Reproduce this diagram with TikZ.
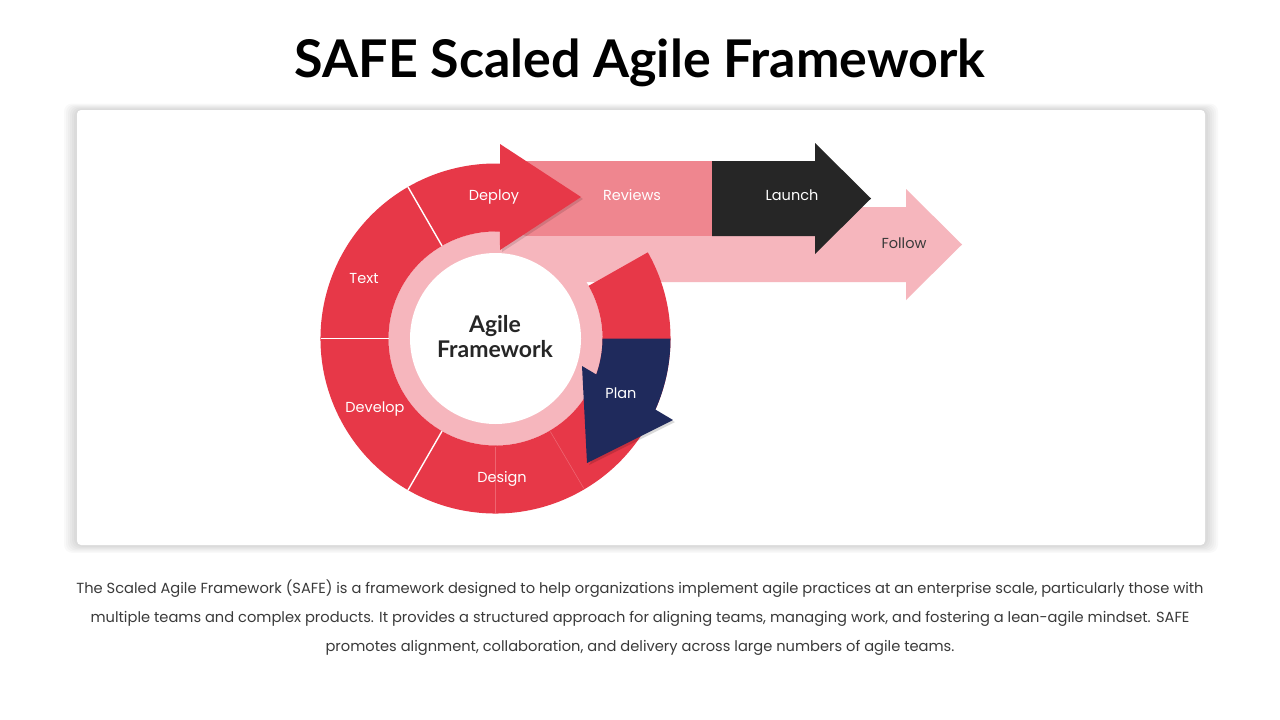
\documentclass[tikz,border=0pt]{standalone}
\usepackage{fontspec}
\setmainfont{Poppins}
\newfontfamily\titlefont{Lato}
\definecolor{redc}{HTML}{E73848}
\definecolor{faintc}{HTML}{EE6470}
\definecolor{reviewc}{HTML}{EF868F}
\definecolor{pinkc}{HTML}{F6B6BD}
\definecolor{launchc}{HTML}{262626}
\definecolor{navyc}{HTML}{1F2A5C}
\definecolor{textc}{HTML}{3A3A3A}
\tikzset{
  seglabel/.style={text=white, font=\fontsize{14.5}{16}\selectfont, inner sep=0pt, text height=10.5pt, text depth=3.5pt},
  darklabel/.style={text=textc, font=\fontsize{14.5}{16}\selectfont, inner sep=0pt, text height=10.5pt, text depth=3.5pt},
  divider/.style={white, line width=1.4pt},
  faint/.style={faintc, line width=0.6pt},
}
\begin{document}
\begin{tikzpicture}[x=1pt,y=-1pt]
\useasboundingbox (0,0) rectangle (1280,720);
\fill[white] (0,0) rectangle (1280,720);
% card shadow
\foreach \d in {13,11,9,7,5,3}{
  \fill[black,opacity=0.022,rounded corners=8pt] (77-\d,110-\d*0.5) rectangle (1205+\d,545+\d*0.6);
}
\fill[white,rounded corners=4pt] (77,110) rectangle (1205,545);
% title
\node (title) at (640,63) {\titlefont\bfseries\fontsize{52}{55}\selectfont SAFE Scaled Agile Framework};
% follow arrow (pink band)
\fill[pinkc] (495,207) -- (906,207) -- (906,189) -- (962,244.5) -- (906,300) -- (906,282) -- (495,282) -- cycle;
% reviews
\fill[reviewc] (512,161) rectangle (712,236);
% launch
\fill[launchc] (712,161) -- (815,161) -- (815,143) -- (871,198.5) -- (815,254) -- (815,236) -- (712,236) -- cycle;
\begin{scope}[shift={(495.5,338.5)}, y=1pt]
  \fill[pinkc] (0,0) circle[radius=107];
  % red ring
  \fill[redc] (120:107) -- (120:175) arc[start angle=120,end angle=389.5,radius=175] -- (389.5:107) arc[start angle=389.5,end angle=120,radius=107] -- cycle;
  % deploy shadow + arrow
  \fill[black,opacity=0.12] ([shift={(2,-2)}]4.5,194.5) -- ([shift={(2,-2)}]85.5,141.5) -- ([shift={(2,-2)}]4.5,88.5) -- cycle;
  \fill[redc] (120:175) arc[start angle=120,end angle=88.5,radius=175] -- (4.5,194.5) -- (85.5,141.5) -- (4.5,88.5) -- (87.6:107) arc[start angle=87.6,end angle=120,radius=107] -- cycle;
  % dividers
  \draw[divider] (120:107) -- (120:175);
  \draw[divider] (180:107) -- (180:175);
  \draw[divider] (240:107) -- (240:175);
  \draw[faint] (270:108) -- (270:174);
  \draw[faint] (300.5:108) -- (300.5:174);
  % plan arrow shadow + arrow
  \fill[black,opacity=0.15] ([shift={(2,-2)}]177.5,-81.5) -- ([shift={(2,-2)}]91.5,-124.5) -- ([shift={(2,-2)}]130,-60) -- cycle;
  \fill[navyc] (0:107) -- (0:175) arc[start angle=0,end angle=-23.96,radius=175] -- (177.5,-81.5) -- (91.5,-124.5) -- (86.5,-27.5) -- (-19.64:107) arc[start angle=-19.64,end angle=0,radius=107] -- cycle;
  % centre
  \fill[white] (0,0) circle[radius=85.5];
\end{scope}
% labels
\node[seglabel] (deploy) at (494,197) {Deploy};
\node[seglabel] (reviews) at (632,197) {Reviews};
\node[seglabel] (launch) at (792,197) {Launch};
\node[darklabel] (follow) at (904,245) {Follow};
\node[seglabel] (text) at (364,280) {Text};
\node[seglabel] (develop) at (375,409) {Develop};
\node[seglabel] (design) at (502,479) {Design};
\node[seglabel] (plan) at (621,395) {Plan};
\node[text=launchc, align=center, font=\titlefont\bfseries\fontsize{23}{25}\selectfont] (center) at (495,337) {Agile\\Framework};
% description
\node[text=textc, align=center, font=\fontsize{14.65}{29}\selectfont] (desc) at (640,618) {The Scaled Agile Framework (SAFE) is a framework designed to help organizations implement agile practices at an enterprise scale, particularly those with\\multiple teams and complex products. It provides a structured approach for aligning teams, managing work, and fostering a lean-agile mindset. SAFE\\promotes alignment, collaboration, and delivery across large numbers of agile teams.};
\end{tikzpicture}
\end{document}
